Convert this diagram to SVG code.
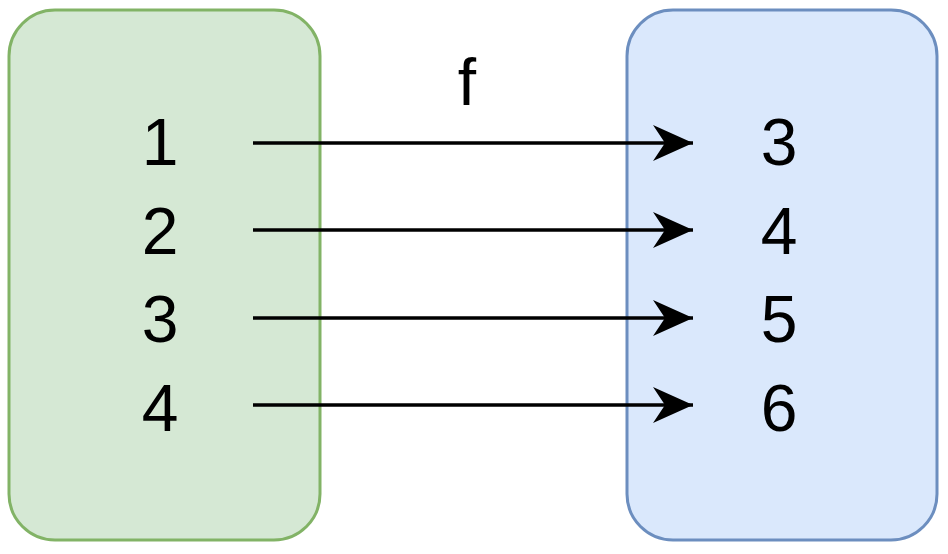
<svg xmlns="http://www.w3.org/2000/svg" width="948" height="554" viewBox="0 0 948 554">
  <style>
    .num { font-family: "Liberation Sans", Arial, Helvetica, sans-serif; font-size: 66px; fill: #000; text-anchor: middle; }
    .domain { fill: #d5e8d4; stroke: #82b366; stroke-width: 3; }
    .codomain { fill: #dae8fc; stroke: #6c8ebf; stroke-width: 3; }
    .edge { stroke: #000; stroke-width: 3.5; fill: none; marker-end: url(#arrow); }
  </style>
  <defs>
    <marker id="arrow" markerUnits="userSpaceOnUse" markerWidth="44" markerHeight="36" refX="40" refY="18" orient="auto">
      <path d="M0,0 L40,18 L0,36 L12,18 Z" fill="#000"/>
    </marker>
  </defs>
  <rect width="948" height="554" fill="#fff"/>

  <g id="domain">
    <rect class="domain" x="9" y="10" width="311" height="530" rx="46" ry="46"/>
    <text class="num" x="160" y="165">1</text>
    <text class="num" x="160" y="254">2</text>
    <text class="num" x="160" y="342">3</text>
    <text class="num" x="160" y="431">4</text>
  </g>

  <g id="codomain">
    <rect class="codomain" x="627" y="10" width="310" height="530" rx="46" ry="46"/>
    <text class="num" x="779" y="165">3</text>
    <text class="num" x="779" y="254">4</text>
    <text class="num" x="779" y="342">5</text>
    <text class="num" x="779" y="431">6</text>
  </g>

  <g id="connectors">
    <line class="edge" x1="253" y1="143" x2="693" y2="143"/>
    <line class="edge" x1="253" y1="230" x2="693" y2="230"/>
    <line class="edge" x1="253" y1="318" x2="693" y2="318"/>
    <line class="edge" x1="253" y1="405" x2="693" y2="405"/>
    <text class="num" x="467" y="105">f</text>
  </g>
</svg>
